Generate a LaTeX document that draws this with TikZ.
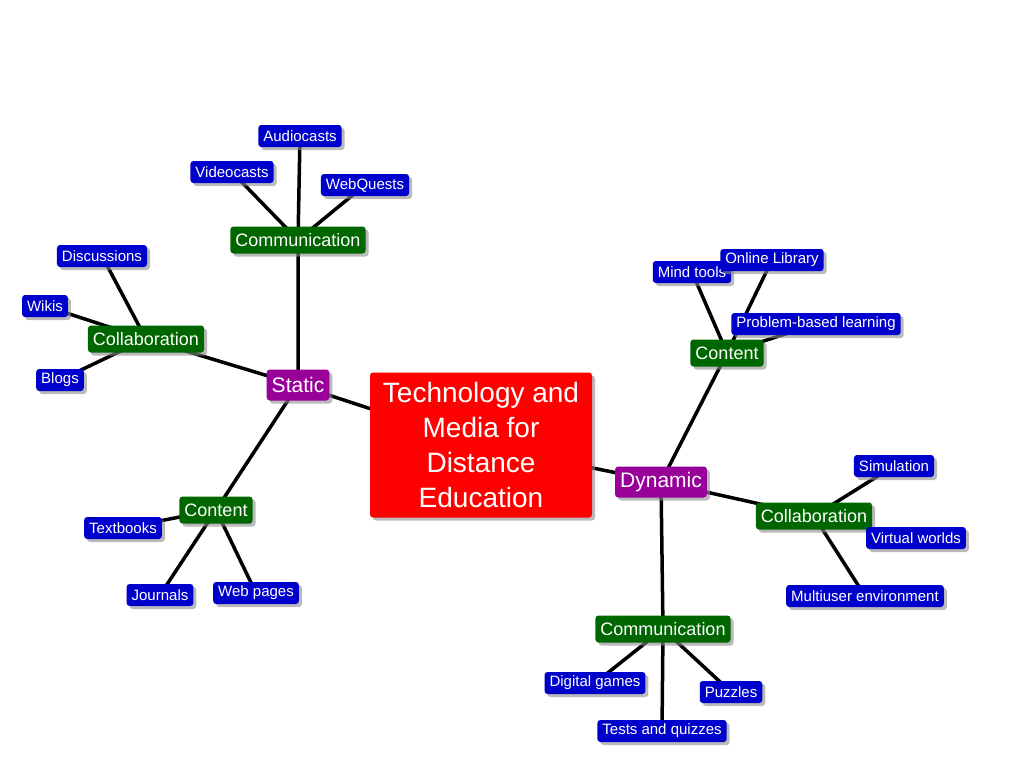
\documentclass[tikz,border=0pt]{standalone}
\usepackage{fontspec}
\setmainfont{Liberation Sans}
\usetikzlibrary{backgrounds,shadows}
\definecolor{leafc}{RGB}{0,0,204}
\definecolor{midc}{RGB}{0,102,0}
\definecolor{topc}{RGB}{153,0,153}
\definecolor{rootc}{RGB}{255,0,0}
\tikzset{
 box/.style={rounded corners=3pt,text=white,drop shadow={shadow xshift=3pt,shadow yshift=-3pt,fill=black!45,opacity=.6},inner ysep=2pt,inner xsep=5pt},
 leaf/.style={box,fill=leafc,font=\fontsize{15}{17}\selectfont,minimum height=22pt},
 mid/.style={box,fill=midc,font=\fontsize{18}{20}\selectfont,minimum height=27pt},
 top/.style={box,fill=topc,font=\fontsize{21}{24}\selectfont,minimum height=31pt},
 root/.style={box,fill=rootc,font=\fontsize{28}{35}\selectfont,align=center,minimum width=222pt,minimum height=145pt},
 link/.style={line width=3.5pt,black}
}
\begin{document}
\begin{tikzpicture}[x=1pt,y=-1pt]
\useasboundingbox (0,0) rectangle (1016,768);
\node[root] (r) at (481,445) {Technology and\\Media for\\Distance\\Education};
\node[top] (s) at (298,385) {Static};
\node[top] (d) at (661,482) {Dynamic};
\node[mid] (sc) at (298,240) {Communication};
\node[mid] (sl) at (146,339) {Collaboration};
\node[mid] (st) at (216,510) {Content};
\node[leaf] (a1) at (300,136) {Audiocasts};
\node[leaf] (a2) at (232,172) {Videocasts};
\node[leaf] (a3) at (365,185) {WebQuests};
\node[leaf] (b1) at (102,256) {Discussions};
\node[leaf] (b2) at (45,306) {Wikis};
\node[leaf] (b3) at (60,380) {Blogs};
\node[leaf] (c1) at (123,528) {Textbooks};
\node[leaf] (c2) at (160,595) {Journals};
\node[leaf] (c3) at (256,593) {Web pages};
\node[mid] (dt) at (727,353) {Content};
\node[mid] (dl) at (814,516) {Collaboration};
\node[mid] (dc) at (663,629) {Communication};
\node[leaf] (e1) at (692,272) {Mind tools};
\node[leaf] (e2) at (772,260) {Online Library};
\node[leaf] (e3) at (816,324) {Problem-based learning};
\node[leaf] (f1) at (894,466) {Simulation};
\node[leaf] (f2) at (916,538) {Virtual worlds};
\node[leaf] (f3) at (865,596) {Multiuser environment};
\node[leaf] (g1) at (595,683) {Digital games};
\node[leaf] (g2) at (662,731) {Tests and quizzes};
\node[leaf] (g3) at (731,692) {Puzzles};
\begin{scope}[on background layer]
\draw[link] (r.center)--(s.center) (r.center)--(d.center);
\draw[link] (s.center)--(sc.center) (s.center)--(sl.center) (s.center)--(st.center);
\draw[link] (d.center)--(dt.center) (d.center)--(dl.center) (d.center)--(dc.center);
\foreach \p/\c in {sc/a1,sc/a2,sc/a3,sl/b1,sl/b2,sl/b3,st/c1,st/c2,st/c3,dt/e1,dt/e2,dt/e3,dl/f1,dl/f2,dl/f3,dc/g1,dc/g2,dc/g3}
  \draw[link] (\p.center)--(\c.center);
\end{scope}
\end{tikzpicture}
\end{document}
